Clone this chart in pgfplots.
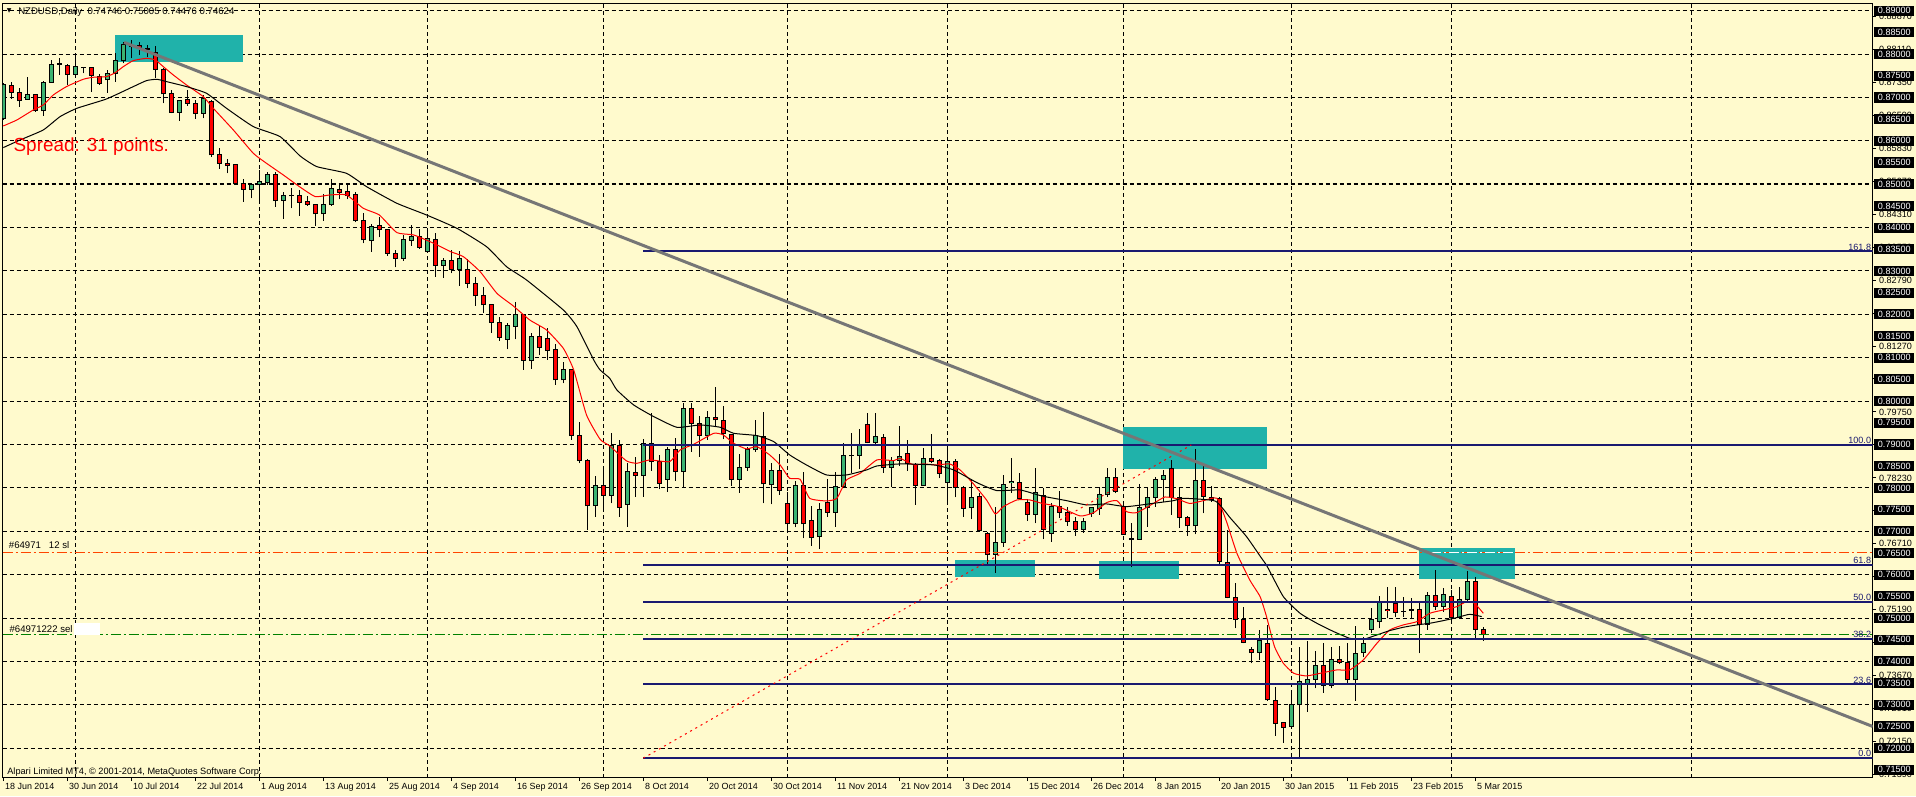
\documentclass[border=0pt]{standalone}
\usepackage{pgfplots}
\pgfplotsset{compat=1.18}
\usepackage{pgfplotstable}
\usepackage{fontspec}
\setmainfont{Liberation Sans}
\newfontfamily\symfont{DejaVu Sans}
\definecolor{bgc}{RGB}{255,250,205}
\definecolor{upc}{RGB}{60,179,113}
\definecolor{boxc}{RGB}{32,178,170}
\definecolor{fibc}{RGB}{25,25,112}
\definecolor{trendc}{RGB}{118,118,118}
\definecolor{slc}{RGB}{255,69,0}
\definecolor{sellc}{RGB}{0,128,0}

\pgfplotstableread{
i O H L C
0 0.86519 0.87326 0.86481 0.87288
1 0.87272 0.87349 0.86965 0.87119
2 0.87119 0.87211 0.86788 0.86919
3 0.86957 0.87465 0.86950 0.87073
4 0.87073 0.87080 0.86673 0.86689
5 0.86689 0.87388 0.86581 0.87349
6 0.87349 0.87864 0.87340 0.87764
7 0.87780 0.87918 0.87518 0.87764
8 0.87733 0.87764 0.87288 0.87534
9 0.87534 0.87956 0.87503 0.87710
10 0.87695 0.87710 0.87557 0.87680
11 0.87687 0.87710 0.87134 0.87503
12 0.87480 0.87534 0.87288 0.87326
13 0.87403 0.87634 0.87111 0.87557
14 0.87557 0.88018 0.87365 0.87849
15 0.87849 0.88287 0.87787 0.88210
16 0.88187 0.88325 0.87903 0.88171
17 0.88187 0.88287 0.87979 0.88156
18 0.88126 0.88210 0.87941 0.88110
19 0.88041 0.88187 0.87457 0.87649
20 0.87649 0.87687 0.86865 0.87080
21 0.87096 0.87173 0.86635 0.86658
22 0.86658 0.86919 0.86458 0.86919
23 0.86942 0.87173 0.86812 0.86865
24 0.86850 0.86942 0.86504 0.86635
25 0.86635 0.87057 0.86519 0.86965
26 0.86904 0.86942 0.85636 0.85674
27 0.85690 0.85828 0.85352 0.85482
28 0.85482 0.85575 0.85252 0.85429
29 0.85444 0.85450 0.85000 0.85006
30 0.85021 0.85114 0.84599 0.84883
31 0.84883 0.85021 0.84676 0.84983
32 0.84983 0.85329 0.84576 0.85060
33 0.85044 0.85290 0.84983 0.85229
34 0.85213 0.85290 0.84484 0.84622
35 0.84622 0.84829 0.84199 0.84737
36 0.84745 0.84906 0.84445 0.84730
37 0.84729 0.84868 0.84276 0.84583
38 0.84599 0.84729 0.84506 0.84537
39 0.84537 0.84545 0.84045 0.84314
40 0.84314 0.84775 0.84160 0.84537
41 0.84537 0.85113 0.84506 0.84906
42 0.84883 0.85021 0.84652 0.84813
43 0.84829 0.85021 0.84652 0.84737
44 0.84752 0.84829 0.84122 0.84160
45 0.84160 0.84345 0.83638 0.83715
46 0.83699 0.84076 0.83446 0.84022
47 0.84037 0.84253 0.83776 0.83945
48 0.83945 0.83961 0.83346 0.83407
49 0.83392 0.83484 0.83085 0.83292
50 0.83292 0.83830 0.83238 0.83715
51 0.83707 0.84060 0.83584 0.83792
52 0.83792 0.83961 0.83507 0.83546
53 0.83446 0.83945 0.83440 0.83753
54 0.83730 0.83868 0.82870 0.83123
55 0.83123 0.83308 0.82847 0.83231
56 0.83231 0.83484 0.82946 0.83039
57 0.83039 0.83461 0.82662 0.83277
58 0.83023 0.83269 0.82601 0.82716
59 0.82716 0.82870 0.82201 0.82424
60 0.82424 0.82639 0.82040 0.82217
61 0.82217 0.82225 0.81579 0.81817
62 0.81809 0.81932 0.81394 0.81471
63 0.81425 0.81794 0.81195 0.81732
64 0.81717 0.82278 0.81425 0.81986
65 0.81986 0.81995 0.80718 0.80934
66 0.80934 0.81563 0.80741 0.81487
67 0.81487 0.81756 0.81064 0.81241
68 0.81448 0.81679 0.80949 0.81164
69 0.81179 0.81318 0.80373 0.80488
70 0.80488 0.80910 0.80411 0.80734
71 0.80734 0.80740 0.79105 0.79205
72 0.79197 0.79528 0.78567 0.78629
73 0.78629 0.78659 0.77031 0.77591
74 0.77591 0.78275 0.77338 0.78052
75 0.78052 0.78410 0.77530 0.77822
76 0.77822 0.79258 0.77645 0.78974
77 0.78974 0.79105 0.77338 0.77553
78 0.77622 0.78582 0.77107 0.78375
79 0.78359 0.78705 0.77799 0.78283
80 0.78283 0.79120 0.77799 0.79028
81 0.79028 0.79719 0.78398 0.78605
82 0.78605 0.78759 0.77968 0.78106
83 0.78198 0.78951 0.77914 0.78890
84 0.78874 0.79143 0.78160 0.78375
85 0.78375 0.79950 0.78029 0.79835
86 0.79835 0.79950 0.78836 0.79489
87 0.79489 0.79658 0.78721 0.79197
88 0.79197 0.79781 0.79105 0.79627
89 0.79627 0.80319 0.79412 0.79566
90 0.79558 0.79888 0.79120 0.79258
91 0.79235 0.79240 0.78052 0.78198
92 0.78198 0.78782 0.77891 0.78475
93 0.78475 0.78936 0.78398 0.78874
94 0.78874 0.79566 0.78836 0.79197
95 0.79182 0.79758 0.77645 0.78091
96 0.78068 0.78567 0.77622 0.78406
97 0.78406 0.78774 0.77837 0.77929
98 0.77645 0.77914 0.76969 0.77169
99 0.77169 0.78160 0.77092 0.78060
100 0.78060 0.78375 0.76838 0.77169
101 0.77253 0.77591 0.76669 0.76861
102 0.76877 0.77660 0.76585 0.77507
103 0.77668 0.78198 0.77338 0.77438
104 0.77438 0.78375 0.77107 0.78029
105 0.78029 0.79028 0.77991 0.78736
106 0.78736 0.79258 0.78352 0.78751
107 0.78744 0.79351 0.78429 0.79005
108 0.79450 0.79719 0.79028 0.79043
109 0.79043 0.79719 0.79013 0.79182
110 0.79166 0.79235 0.78352 0.78475
111 0.78475 0.78720 0.78014 0.78628
112 0.78628 0.79427 0.78505 0.78720
113 0.78782 0.79105 0.78398 0.78552
114 0.78544 0.78567 0.77607 0.78052
115 0.78052 0.78913 0.78045 0.78667
116 0.78667 0.79243 0.78567 0.78605
117 0.78621 0.78667 0.78221 0.78336
118 0.78129 0.78936 0.77668 0.78598
119 0.78598 0.78667 0.77783 0.78014
120 0.78014 0.78044 0.77338 0.77530
121 0.77545 0.78206 0.77276 0.77783
122 0.77799 0.77875 0.77010 0.77015
123 0.76938 0.76992 0.76247 0.76469
124 0.76469 0.77568 0.76047 0.76746
125 0.76746 0.78298 0.76646 0.78083
126 0.78114 0.78682 0.77891 0.78144
127 0.78129 0.78352 0.77722 0.77760
128 0.77660 0.77737 0.77245 0.77391
129 0.77391 0.78452 0.77184 0.77898
130 0.77822 0.78006 0.76815 0.77030
131 0.76953 0.77645 0.76761 0.77568
132 0.77568 0.77929 0.77299 0.77438
133 0.77438 0.77568 0.77122 0.77222
134 0.77222 0.77338 0.76900 0.77030
135 0.77046 0.77299 0.76969 0.77222
136 0.77414 0.77568 0.77338 0.77545
137 0.77514 0.78029 0.77376 0.77837
138 0.77837 0.78452 0.77799 0.78244
139 0.78244 0.78452 0.77875 0.77914
140 0.77568 0.77645 0.76915 0.76930
141 0.76823 0.77184 0.76170 0.76807
142 0.76815 0.78083 0.76800 0.77553
143 0.77553 0.78006 0.77107 0.77783
144 0.77783 0.78260 0.77568 0.78198
145 0.78198 0.78413 0.77683 0.78290
146 0.78444 0.78644 0.77376 0.77783
147 0.77783 0.78006 0.77084 0.77315
148 0.77323 0.77353 0.76900 0.77122
149 0.77122 0.78890 0.76930 0.78175
150 0.78175 0.78505 0.77414 0.77799
151 0.77783 0.78044 0.77683 0.77737
152 0.77760 0.77783 0.76247 0.76300
153 0.76277 0.77030 0.75455 0.75478
154 0.75478 0.75801 0.74764 0.74971
155 0.74971 0.75248 0.74418 0.74441
156 0.74280 0.74341 0.73957 0.74203
157 0.74203 0.74725 0.74034 0.74472
158 0.74418 0.74841 0.73089 0.73112
159 0.73097 0.73419 0.72282 0.72574
160 0.72597 0.72612 0.72129 0.72482
161 0.72497 0.73243 0.72482 0.72997
162 0.72997 0.74341 0.71767 0.73535
163 0.73496 0.74472 0.72843 0.73588
164 0.73588 0.74241 0.73381 0.73896
165 0.73896 0.74418 0.73281 0.73442
166 0.73442 0.74341 0.73381 0.74034
167 0.74049 0.74357 0.73934 0.73980
168 0.73980 0.74418 0.73458 0.73573
169 0.73573 0.74825 0.73097 0.74187
170 0.74203 0.74556 0.74095 0.74418
171 0.74741 0.75240 0.74664 0.74956
172 0.74917 0.75509 0.74764 0.75355
173 0.75202 0.75709 0.74994 0.75171
174 0.75340 0.75709 0.75017 0.75133
175 0.75156 0.75494 0.75033 0.75148
176 0.75179 0.75455 0.74971 0.75194
177 0.75202 0.75355 0.74187 0.74856
178 0.74856 0.75609 0.74725 0.75517
179 0.75509 0.76108 0.75186 0.75263
180 0.75263 0.75686 0.75148 0.75547
181 0.75494 0.75647 0.74956 0.75010
182 0.75010 0.75709 0.74994 0.75417
183 0.75417 0.76093 0.75378 0.75839
184 0.75839 0.75939 0.74510 0.74741
185 0.74746 0.74790 0.74476 0.74624
}\candles

\tikzset{gridl/.style={black, line width=0.75pt, dash pattern=on 3pt off 2.25pt}}

\begin{document}
\begin{tikzpicture}
\fill[bgc] (0pt,0pt) rectangle (1437pt,-597pt);
\begin{axis}[
  at={(1.875pt,-2.25pt)}, anchor=north west,
  x=6pt, y=3253.6pt,
  xmin=-0.1, xmax=233.675, ymin=0.71319, ymax=0.89177,
  axis line style={black, line width=0.75pt},
  xtick pos=bottom, ytick pos=right, yticklabel pos=right,
  tick align=outside, major tick length=2.6pt,
  tick style={black, line width=0.75pt},
  xtick={0,8,...,184},
  xticklabels={18 Jun 2014,30 Jun 2014,10 Jul 2014,22 Jul 2014,1 Aug 2014,13 Aug 2014,25 Aug 2014,4 Sep 2014,16 Sep 2014,26 Sep 2014,8 Oct 2014,20 Oct 2014,30 Oct 2014,11 Nov 2014,21 Nov 2014,3 Dec 2014,15 Dec 2014,26 Dec 2014,8 Jan 2015,20 Jan 2015,30 Jan 2015,11 Feb 2015,23 Feb 2015,5 Mar 2015},
  xticklabel style={font=\fontsize{6.7}{7}\selectfont, anchor=north west, inner sep=0pt, xshift=1.2pt, yshift=-1.5pt},
  ytick={0.7139,0.7215,0.7291,0.7367,0.7443,0.7519,0.7595,0.7671,0.7747,0.7823,0.7899,0.7975,0.8051,0.8127,0.8203,0.8279,0.8355,0.8431,0.8507,0.8583,0.8659,0.8735,0.8811,0.8887},
  scaled y ticks=false,
  yticklabel style={font=\fontsize{6.8}{7}\selectfont, anchor=west, inner sep=0pt, xshift=2pt,
    /pgf/number format/fixed, /pgf/number format/fixed zerofill, /pgf/number format/precision=5, /pgf/number format/assume math mode=true},
  extra y ticks={0.715,0.72,0.725,0.73,0.735,0.74,0.745,0.75,0.755,0.76,0.765,0.77,0.775,0.78,0.785,0.79,0.795,0.8,0.805,0.81,0.815,0.82,0.825,0.83,0.835,0.84,0.845,0.85,0.855,0.86,0.865,0.87,0.875,0.88,0.885,0.89},
  extra y tick style={major tick length=0pt, yticklabel style={fill=black, text=white, inner sep=0pt, minimum width=30pt, minimum height=7.6pt, xshift=-1pt}},
]
% grid
\pgfplotsinvokeforeach{0.72,0.73,0.74,0.75,0.76,0.77,0.78,0.79,0.80,0.81,0.82,0.83,0.84,0.86,0.87,0.88,0.89}{
  \draw[gridl] (axis cs:-0.1,#1) -- (axis cs:233.675,#1);
}
\draw[black, line width=1.5pt, dash pattern=on 3pt off 2.25pt] (axis cs:-0.1,0.85) -- (axis cs:233.675,0.85);
\pgfplotsinvokeforeach{9,32,53,75,98,118,140,161,181,211}{
  \draw[gridl] (axis cs:#1,0.71319) -- (axis cs:#1,0.89177);
}
% rectangles
\addplot[fill=boxc, draw=none] coordinates {(14,0.8844) (29.9,0.8844) (29.9,0.87826) (14,0.87826)} -- cycle;
\addplot[fill=boxc, draw=none] coordinates {(140,0.79397) (157.9,0.79397) (157.9,0.78444) (140,0.78444)} -- cycle;
\addplot[fill=boxc, draw=none] coordinates {(118.95,0.76339) (128.9,0.76339) (128.9,0.75955) (118.95,0.75955)} -- cycle;
\addplot[fill=boxc, draw=none] coordinates {(136.98,0.76316) (146.97,0.76316) (146.97,0.75909) (136.98,0.75909)} -- cycle;
\addplot[fill=boxc, draw=none] coordinates {(176.96,0.76620) (188.96,0.76620) (188.96,0.75901) (176.96,0.75901)} -- cycle;
% wicks
\addplot[draw=none, mark=none, error bars/.cd, y dir=plus, y explicit, error mark=none,
  error bar style={draw=black, line width=0.75pt}]
  table[x=i, y=L, y error plus expr={\thisrow{H}-\thisrow{L}}] {\candles};
% body outlines
\addplot[draw=none, mark=none, error bars/.cd, y dir=plus, y explicit, error mark=none,
  error bar style={draw=black, line width=3.75pt}]
  table[x=i, y expr={min(\thisrow{O},\thisrow{C})-0.000115}, y error plus expr={abs(\thisrow{C}-\thisrow{O})+0.00023}] {\candles};
% up bodies
\addplot[draw=none, mark=none, restrict expr to domain={\thisrow{C}-\thisrow{O}}{0.00024:1},
  error bars/.cd, y dir=plus, y explicit, error mark=none,
  error bar style={draw=upc, line width=2.25pt}]
  table[x=i, y expr={\thisrow{O}+0.000115}, y error plus expr={\thisrow{C}-\thisrow{O}-0.00023}] {\candles};
% down bodies
\addplot[draw=none, mark=none, restrict expr to domain={\thisrow{O}-\thisrow{C}}{0.00024:1},
  error bars/.cd, y dir=plus, y explicit, error mark=none,
  error bar style={draw=red, line width=2.25pt}]
  table[x=i, y expr={\thisrow{C}+0.000115}, y error plus expr={\thisrow{O}-\thisrow{C}-0.00023}] {\candles};
% moving averages
\addplot[red, line width=0.75pt, smooth, tension=0.3] coordinates {
(0,0.86343) (1.7,0.86481) (3.75,0.86712) (5,0.86827) (6.25,0.87057) (7.9,0.87250) (10,0.87419) (11.25,0.87465) (12.9,0.87480) (14,0.87572) (15,0.87710) (16.25,0.87849) (17.9,0.87902) (19,0.87864) (20,0.87710) (21.25,0.87518) (22.9,0.87288) (25,0.87019) (26.25,0.86750) (28.75,0.86251) (31.25,0.85713) (32.9,0.85482) (35,0.85213) (37.1,0.84933) (39,0.84714) (40.8,0.84752) (42.9,0.84752) (45,0.84445) (47,0.84291) (49.2,0.83884) (51.3,0.83830) (53.8,0.83638) (55.9,0.83446) (57.5,0.83331) (59.6,0.82985) (61.7,0.82485) (63.7,0.82201) (65.8,0.81871) (67.9,0.81640) (70,0.81218) (71.3,0.80719) (72.9,0.79681) (74.6,0.79120) (75.8,0.78967) (77.9,0.78621) (79.2,0.78567) (80.8,0.78644) (83.3,0.78605) (84.6,0.78874) (86.3,0.79005) (88.8,0.79258) (90,0.79220) (91.3,0.79028) (92.9,0.78897) (94.2,0.78951) (95.8,0.78759) (97.1,0.78528) (98.3,0.78221) (99.6,0.78198) (100.8,0.77760) (102.9,0.77699) (104.2,0.77760) (105.4,0.78183) (107.1,0.78336) (109.2,0.78644) (111.3,0.78628) (112.1,0.78682) (113.8,0.78529) (115,0.78552) (116.7,0.78529) (118.3,0.78552) (119.6,0.78413) (121.2,0.78106) (122.9,0.77722) (124,0.77399) (125,0.77568) (126.7,0.77722) (128.3,0.77722) (129.8,0.77645) (131.9,0.77568) (134.6,0.77353) (136.3,0.77430) (137.9,0.77660) (139.2,0.77706) (140.4,0.77453) (141.7,0.77430) (143.8,0.77645) (145.2,0.77790) (146.7,0.77750) (148.3,0.77640) (150,0.77705) (151.7,0.77760) (152.9,0.77222) (154.2,0.76492) (155.8,0.75878) (157.1,0.75493) (157.9,0.75033) (158.9,0.74341) (160,0.73957) (161.3,0.73727) (162.9,0.73665) (165,0.73742) (166.7,0.73804) (168.3,0.73804) (170,0.74034) (171.7,0.74418) (173.3,0.74725) (175,0.74841) (176.7,0.74917) (178.3,0.75109) (180,0.75186) (181.7,0.75263) (182.9,0.75378) (183.9,0.75340) (185,0.75109)
};
\addplot[black, line width=0.75pt, smooth, tension=0.3] coordinates {
(0,0.85844) (2.1,0.86020) (5,0.86251) (7.1,0.86558) (9.2,0.86750) (12.9,0.86965) (16.25,0.87250) (17.9,0.87388) (19.2,0.87419) (20.4,0.87365) (22.9,0.87250) (25.4,0.87096) (27.9,0.86750) (31.25,0.86328) (34.6,0.86097) (37.1,0.85651) (39.2,0.85405) (42.9,0.85251) (45.4,0.84944) (49.2,0.84560) (52.9,0.84291) (56.7,0.83984) (60.4,0.83561) (62.9,0.83100) (65.4,0.82793) (70,0.82101) (71.7,0.81717) (73.8,0.80949) (74.6,0.80718) (75.8,0.80526) (76.7,0.80257) (78.8,0.79911) (81.3,0.79643) (84.2,0.79397) (87.1,0.79450) (89.6,0.79397) (91.3,0.79258) (94.2,0.79205) (96.3,0.79066) (98.3,0.78759) (100.4,0.78528) (102.9,0.78298) (105.4,0.78298) (107.9,0.78413) (109.2,0.78505) (112.1,0.78552) (116.3,0.78529) (118.8,0.78413) (121.7,0.78121) (124.2,0.77937) (127.1,0.77952) (129.8,0.77814) (132.9,0.77706) (135.4,0.77607) (137.9,0.77630) (140.4,0.77568) (143.8,0.77645) (146.3,0.77706) (147.5,0.77760) (151.5,0.77695) (153.4,0.77300) (155.4,0.76877) (157.2,0.76400) (158,0.76185) (160,0.75494) (162.1,0.75109) (164.2,0.74879) (166.3,0.74687) (168.3,0.74533) (170,0.74510) (171.7,0.74610) (173.3,0.74710) (175,0.74787) (176.7,0.74841) (178.3,0.74879) (180,0.74940) (181.7,0.75010) (183.3,0.75086) (184.8,0.75033)
};
% fibonacci levels
\addplot[fibc, line width=1.5pt] coordinates {(80,0.7177) (233.675,0.7177)};
\addplot[fibc, line width=1.5pt] coordinates {(80,0.73474) (233.675,0.73474)};
\addplot[fibc, line width=1.5pt] coordinates {(80,0.74528) (233.675,0.74528)};
\addplot[fibc, line width=1.5pt] coordinates {(80,0.7538) (233.675,0.7538)};
\addplot[fibc, line width=1.5pt] coordinates {(80,0.76232) (233.675,0.76232)};
\addplot[fibc, line width=1.5pt] coordinates {(80,0.7899) (233.675,0.7899)};
\addplot[fibc, line width=1.5pt] coordinates {(80,0.83452) (233.675,0.83452)};
\addplot[red, line width=0.75pt, dash pattern=on 1.5pt off 3pt] coordinates {(80,0.7177) (148.5,0.7899)};
% order lines
\addplot[slc, line width=0.75pt, dash pattern=on 7.5pt off 2.25pt on 1.5pt off 2.25pt] coordinates {(-0.1,0.7650) (233.675,0.7650)};
\addplot[white, line width=0.75pt, dash pattern=on 7.5pt off 2.25pt on 1.5pt off 2.25pt] coordinates {(178.5,0.7650) (188.9,0.7650)};
\addplot[sellc, line width=0.75pt, dash pattern=on 7.5pt off 2.25pt on 1.5pt off 2.25pt] coordinates {(-0.1,0.74624) (233.675,0.74624)};
% trend line
\addplot[trendc, line width=2.25pt] coordinates {(15.1,0.8827) (233.675,0.7250)};
% fib labels
\begin{scope}[every node/.style={anchor=south east, text=fibc, font=\fontsize{6.8}{7}\selectfont, inner sep=0.6pt}]
\node at (axis cs:233.6,0.83452) {161.8};
\node at (axis cs:233.6,0.7899) {100.0};
\node at (axis cs:233.6,0.76232) {61.8};
\node at (axis cs:233.6,0.7538) {50.0};
\node at (axis cs:233.6,0.74528) {38.2};
\node at (axis cs:233.6,0.73474) {23.6};
\node at (axis cs:233.6,0.7177) {0.0};
\end{scope}
\end{axis}
% texts
\node[anchor=center, inner sep=0pt, font=\symfont\fontsize{4.5}{5}\selectfont] at (6.9pt,-8.3pt) {▼};
\node[anchor=base west, inner sep=0pt, font=\fontsize{7.2}{8}\selectfont] at (13.5pt,-10.6pt) {NZDUSD,Daily\ \ 0.74746 0.75005 0.74476 0.74624};
\node[anchor=base west, inner sep=0pt, text=red, font=\fontsize{14.2}{16}\selectfont] at (10pt,-113.25pt) {Spread: 31 points.};
\node[anchor=base west, inner sep=0pt, font=\fontsize{7.2}{8}\selectfont] at (6.5pt,-411pt) {\#64971\ \ \ 12 sl};
\node[anchor=base west, inner sep=0pt, font=\fontsize{7.2}{8}\selectfont] at (7pt,-474.5pt) {\#64971222 sel};
\fill[white] (55.5pt,-467pt) rectangle (75pt,-476pt);
\node[anchor=base west, inner sep=0pt, font=\fontsize{6.9}{8}\selectfont] at (5.3pt,-580.5pt) {Alpari Limited MT4, © 2001-2014, MetaQuotes Software Corp.};
\pgfresetboundingbox
\path[use as bounding box] (0pt,0pt) rectangle (1437pt,-597pt);
\end{tikzpicture}
\end{document}
